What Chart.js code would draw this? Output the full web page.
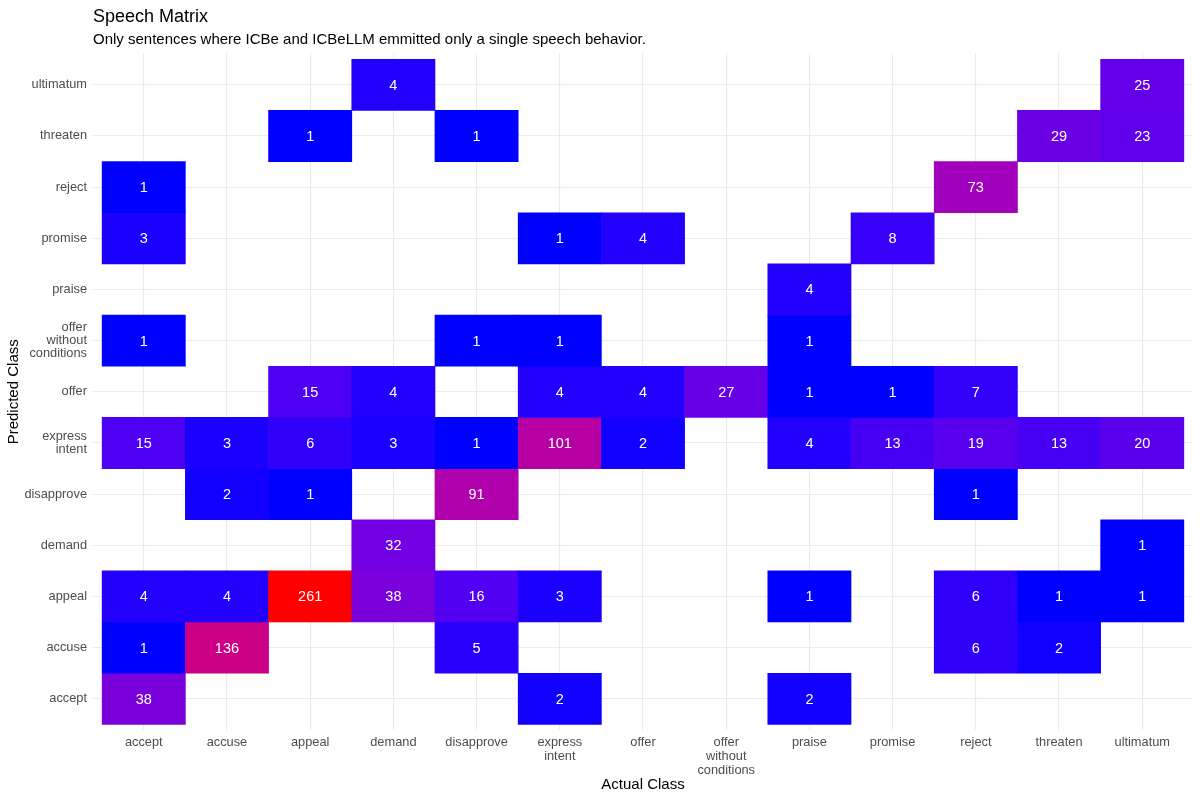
<!DOCTYPE html>
<html>
<head>
<meta charset="utf-8">
<title>Speech Matrix</title>
<script src="https://cdn.jsdelivr.net/npm/chart.js@4.4.1/dist/chart.umd.min.js"></script>
<style>
  html, body { margin: 0; padding: 0; background: #fff; }
  #wrap { width: 1200px; height: 800px; }
</style>
</head>
<body>
<div id="wrap"><canvas id="matrixChart"></canvas></div>
<script>
// classes, same order on both axes (bottom-to-top on y)
const classes = [
  "accept", "accuse", "appeal", "demand", "disapprove", "express intent",
  "offer", "offer without conditions", "praise", "promise", "reject",
  "threaten", "ultimatum",
];

// tick labels as ggplot wrapped them
const xTickLabels = [
  "accept", "accuse", "appeal", "demand", "disapprove", ["express", "intent"],
  "offer", ["offer", "without", "conditions"], "praise", "promise", "reject",
  "threaten", "ultimatum",
];
const yTickLabels = xTickLabels;

// counts: one row per predicted class, one column per actual class
const predAccept      = [38, null, null, null, null, 2, null, null, 2, null, null, null, null];
const predAccuse      = [1, 136, null, null, 5, null, null, null, null, null, 6, 2, null];
const predAppeal      = [4, 4, 261, 38, 16, 3, null, null, 1, null, 6, 1, 1];
const predDemand      = [null, null, null, 32, null, null, null, null, null, null, null, null, 1];
const predDisapprove  = [null, 2, 1, null, 91, null, null, null, null, null, 1, null, null];
const predExpress     = [15, 3, 6, 3, 1, 101, 2, null, 4, 13, 19, 13, 20];
const predOffer       = [null, null, 15, 4, null, 4, 4, 27, 1, 1, 7, null, null];
const predOfferNoCond = [1, null, null, null, 1, 1, null, null, 1, null, null, null, null];
const predPraise      = [null, null, null, null, null, null, null, null, 4, null, null, null, null];
const predPromise     = [3, null, null, null, null, 1, 4, null, null, 8, null, null, null];
const predReject      = [1, null, null, null, null, null, null, null, null, null, 73, null, null];
const predThreaten    = [null, null, 1, null, 1, null, null, null, null, null, null, 29, 23];
const predUltimatum   = [null, null, null, 4, null, null, null, null, null, null, null, null, 25];

const countRows = [
  predAccept, predAccuse, predAppeal, predDemand, predDisapprove, predExpress,
  predOffer, predOfferNoCond, predPraise, predPromise, predReject,
  predThreaten, predUltimatum,
];

const FONT = '"Liberation Sans", Arial, Helvetica, sans-serif';

// --- colour: blue -> red, interpolated in CIELAB like scale_fill_gradient
function toLinear(c) {
  c /= 255;
  return c <= 0.04045 ? c / 12.92 : Math.pow((c + 0.055) / 1.055, 2.4);
}
function fromLinear(c) {
  const v = c <= 0.0031308 ? 12.92 * c : 1.055 * Math.pow(c, 1 / 2.4) - 0.055;
  return Math.round(Math.max(0, Math.min(1, v)) * 255);
}
function rgbToLab(rgb) {
  const r = toLinear(rgb[0]), g = toLinear(rgb[1]), b = toLinear(rgb[2]);
  const x = (0.4124564 * r + 0.3575761 * g + 0.1804375 * b) / 0.95047;
  const y = (0.2126729 * r + 0.7151522 * g + 0.072175 * b) / 1.0;
  const z = (0.0193339 * r + 0.119192 * g + 0.9503041 * b) / 1.08883;
  const f = (t) => (t > 0.008856 ? Math.cbrt(t) : 7.787 * t + 16 / 116);
  const fx = f(x), fy = f(y), fz = f(z);
  return [116 * fy - 16, 500 * (fx - fy), 200 * (fy - fz)];
}
function labToRgb(lab) {
  const fy = (lab[0] + 16) / 116;
  const fx = fy + lab[1] / 500;
  const fz = fy - lab[2] / 200;
  const inv = (f) => (f * f * f > 0.008856 ? f * f * f : (f - 16 / 116) / 7.787);
  const x = inv(fx) * 0.95047, y = inv(fy), z = inv(fz) * 1.08883;
  const r = 3.2404542 * x - 1.5371385 * y - 0.4985314 * z;
  const g = -0.969266 * x + 1.8760108 * y + 0.041556 * z;
  const b = 0.0556434 * x - 0.2040259 * y + 1.0572252 * z;
  return `rgb(${fromLinear(r)}, ${fromLinear(g)}, ${fromLinear(b)})`;
}
const labLow = rgbToLab([0, 0, 255]);
const labHigh = rgbToLab([255, 0, 0]);

// --- build cells
const cells = [];
countRows.forEach((row, r) => {
  row.forEach((v, c) => {
    if (v !== null) cells.push({ x: c, y: [r - 0.5, r + 0.5], v: v });
  });
});
const allCounts = cells.map((d) => d.v);
const vMin = Math.min(...allCounts);
const vMax = Math.max(...allCounts);
const cellColors = cells.map((d) => {
  const t = (d.v - vMin) / (vMax - vMin);
  return labToRgb(labLow.map((l, i) => l + (labHigh[i] - l) * t));
});

// draw the count in the middle of each tile
const cellLabels = {
  id: "cellLabels",
  afterDatasetsDraw(chart) {
    const ctx = chart.ctx;
    const meta = chart.getDatasetMeta(0);
    ctx.save();
    ctx.fillStyle = "#ffffff";
    ctx.font = `14.5px ${FONT}`;
    ctx.textAlign = "center";
    ctx.textBaseline = "middle";
    meta.data.forEach((bar, i) => {
      ctx.fillText(String(cells[i].v), bar.x, (bar.y + bar.base) / 2 + 1);
    });
    ctx.restore();
  },
};

const ticksAt = (axis) => {
  axis.ticks = classes.map((_, i) => ({ value: i }));
};

const ctx = document.getElementById("matrixChart").getContext("2d");
new Chart(ctx, {
  type: "bar",
  data: {
    datasets: [
      {
        label: "count",
        data: cells,
        backgroundColor: cellColors,
        borderWidth: 0,
        barPercentage: 1,
        categoryPercentage: 1,
      },
    ],
  },
  options: {
    responsive: true,
    maintainAspectRatio: false,
    animation: false,
    layout: { padding: { left: 0, right: 7, top: 0, bottom: 0 } },
    plugins: {
      legend: { display: false },
      tooltip: { enabled: false },
      title: {
        display: true,
        text: "Speech Matrix",
        align: "start",
        fullSize: false,
        color: "#000000",
        font: { family: FONT, size: 18, weight: "normal" },
        padding: { top: 6, bottom: 1 },
      },
      subtitle: {
        display: true,
        text: "Only sentences where ICBe and ICBeLLM emmitted only a single speech behavior.",
        align: "start",
        fullSize: false,
        color: "#000000",
        font: { family: FONT, size: 15 },
        padding: { top: 2, bottom: 5 },
      },
    },
    scales: {
      x: {
        type: "linear",
        min: -0.61,
        max: 12.61,
        offset: false,
        afterBuildTicks: ticksAt,
        afterFit: (scale) => {
          scale.height = 70;
        },
        grid: { color: "#ebebeb", lineWidth: 1.1, drawTicks: false, offset: false },
        border: { display: false },
        ticks: {
          autoSkip: false,
          maxRotation: 0,
          padding: 6,
          color: "#4d4d4d",
          font: { family: FONT, size: 12.8, lineHeight: 1.08 },
          callback: (value) => xTickLabels[value],
        },
        title: {
          display: true,
          text: "Actual Class",
          color: "#000000",
          font: { family: FONT, size: 15 },
          padding: { top: 0, bottom: 6 },
        },
      },
      y: {
        type: "linear",
        min: -0.61,
        max: 12.61,
        offset: false,
        afterBuildTicks: ticksAt,
        afterFit: (scale) => {
          scale.width = 93;
        },
        grid: { color: "#ebebeb", lineWidth: 1.1, drawTicks: false, offset: false },
        border: { display: false },
        ticks: {
          autoSkip: false,
          padding: 6,
          color: "#4d4d4d",
          font: { family: FONT, size: 12.8, lineHeight: 1.02 },
          callback: (value) => yTickLabels[value],
        },
        title: {
          display: true,
          text: "Predicted Class",
          color: "#000000",
          font: { family: FONT, size: 15 },
          padding: { top: 5, bottom: 0 },
        },
      },
    },
  },
  plugins: [cellLabels],
});
</script>
</body>
</html>
